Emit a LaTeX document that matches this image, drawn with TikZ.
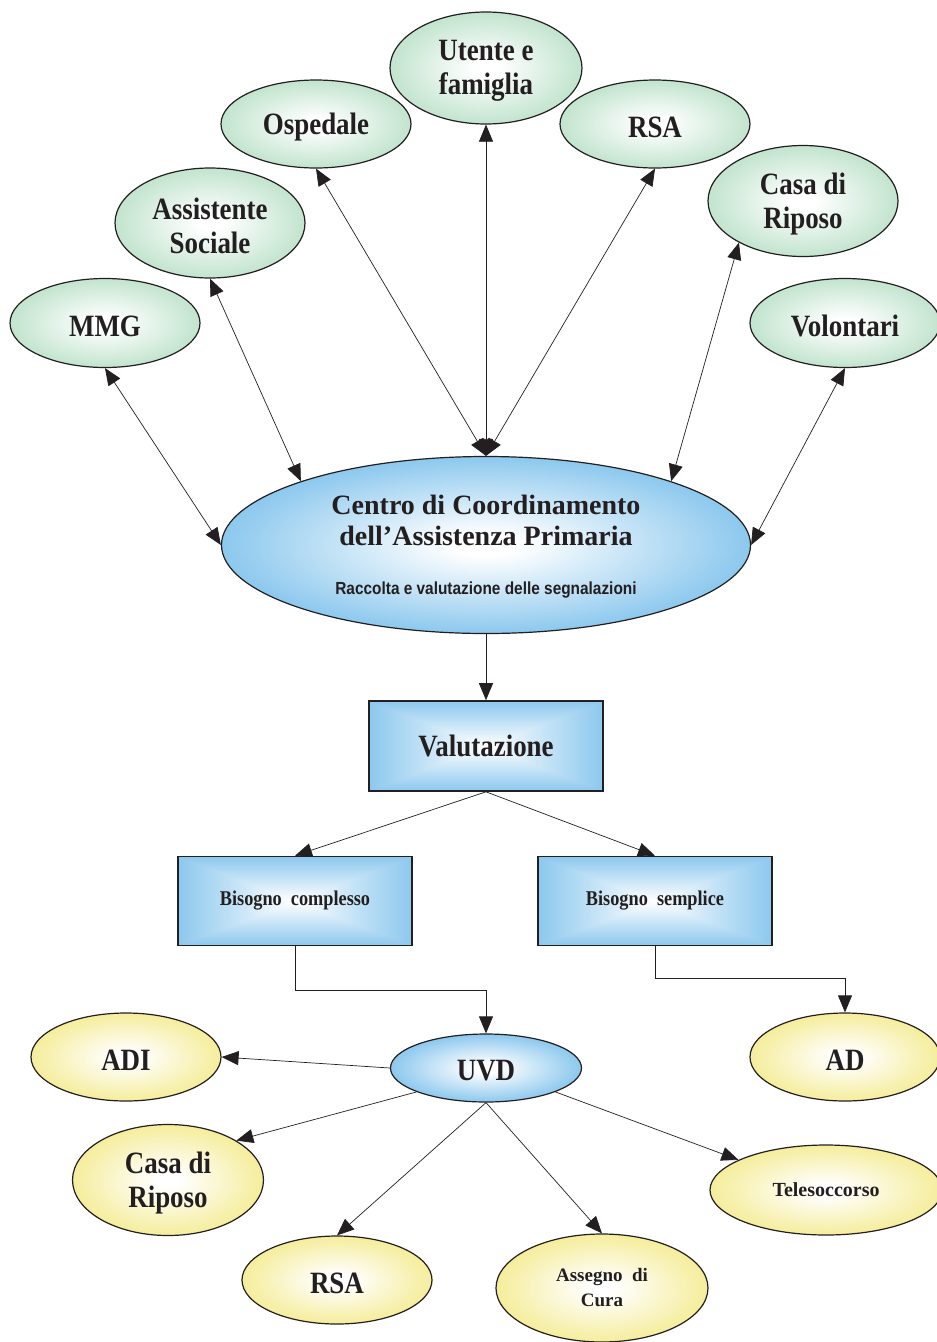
\documentclass[tikz,border=0pt]{standalone}
\usepackage{fontspec}
\setmainfont{Liberation Serif}
\newfontfamily\tallserif[FakeStretch=0.87]{Liberation Serif}
\newfontfamily\sansface[FakeStretch=0.88]{Liberation Sans}
\usetikzlibrary{shapes.geometric,arrows.meta}

\definecolor{mintE}{RGB}{194,228,206}
\definecolor{skyE}{RGB}{140,200,238}
\definecolor{lemonE}{RGB}{245,237,155}
\definecolor{ink}{RGB}{35,31,32}

% soft radial fills: white core fading to the edge colour
\pgfdeclareradialshading{mintglow}{\pgfpoint{0bp}{0bp}}{color(0bp)=(white); color(3bp)=(white); color(25bp)=(mintE); color(50bp)=(mintE)}
\pgfdeclareradialshading{skyglow}{\pgfpoint{0bp}{0bp}}{color(0bp)=(white); color(3bp)=(white); color(25bp)=(skyE); color(50bp)=(skyE)}
\pgfdeclareradialshading{lemonglow}{\pgfpoint{0bp}{0bp}}{color(0bp)=(white); color(3bp)=(white); color(25bp)=(lemonE); color(50bp)=(lemonE)}

% rectangular fill: white centre, sky blue towards every side
\pgfdeclarefunctionalshading{skybox}{\pgfpoint{-50bp}{-50bp}}{\pgfpoint{50bp}{50bp}}{}{
 abs exch abs 2 copy lt {exch} if pop
 25 div dup 1 gt {pop 1} if
 dup dup
 -0.451 mul 1 add
 3 1 roll
 -0.216 mul 1 add
 exch
 -0.067 mul 1 add
}

\tikzset{
  bigtxt/.style={font=\tallserif\bfseries\fontsize{31}{34}\selectfont, align=center, inner sep=0pt, text=ink, yshift=-3pt},
  smalltxt/.style={font=\bfseries\fontsize{19}{25}\selectfont, align=center, inner sep=0pt, text=ink},
  greenball/.style={ellipse, draw=ink, line width=1.2pt, shade, shading=mintglow, inner sep=0pt},
  yellowball/.style={ellipse, draw=ink, line width=1.2pt, shade, shading=lemonglow, inner sep=0pt},
  blueball/.style={ellipse, draw=ink, line width=1.2pt, shade, shading=skyglow, inner sep=0pt},
  bluebox/.style={rectangle, draw=ink, line width=1.6pt, shade, shading=skybox, inner sep=0pt,
                  minimum width=234pt, minimum height=89pt},
  link/.style={draw=ink, line width=0.7pt, -{Triangle[length=17pt,width=14pt]}},
  duallink/.style={draw=ink, line width=0.7pt, {Triangle[length=17pt,width=14pt]}-{Triangle[length=17pt,width=14pt]}},
}

\begin{document}
\begin{tikzpicture}[x=1pt,y=-1pt]
\path[use as bounding box, fill=white] (0,0) rectangle (937,1342);

% referring services
\node[greenball, minimum width=190pt, minimum height=89pt, label={[bigtxt]center:MMG}] (mmg) at (105,323) {};
\node[greenball, minimum width=190pt, minimum height=110pt, label={[bigtxt]center:Assistente\\Sociale}] (soc) at (210,223) {};
\node[greenball, minimum width=190pt, minimum height=88pt, label={[bigtxt]center:Ospedale}] (osp) at (316,124) {};
\node[greenball, minimum width=192pt, minimum height=112pt, label={[bigtxt]center:Utente e\\famiglia}] (ute) at (486,68) {};
\node[greenball, minimum width=190pt, minimum height=88pt, label={[bigtxt]center:RSA}] (rsa) at (655,124) {};
\node[greenball, minimum width=190pt, minimum height=111pt, label={[bigtxt]center:Casa di\\Riposo}] (cdr) at (803,201) {};
\node[greenball, minimum width=190pt, minimum height=89pt, label={[bigtxt]center:Volontari}] (vol) at (845,323) {};

% coordination hub
\node[blueball, minimum width=529pt, minimum height=177pt] (hub) at (486,545) {};
\node[font=\bfseries\fontsize{28}{31}\selectfont, text=ink, inner sep=0pt, anchor=base] (hubA) at (486,514) {Centro di Coordinamento};
\node[font=\bfseries\fontsize{28}{31}\selectfont, text=ink, inner sep=0pt, anchor=base] (hubB) at (486,545) {dell’Assistenza Primaria};
\node[font=\sansface\bfseries\fontsize{17.5}{20}\selectfont, text=ink, inner sep=0pt, anchor=base] (hubC) at (486,594) {Raccolta e valutazione delle segnalazioni};

% assessment
\node[bluebox, minimum height=90pt, font=\tallserif\bfseries\fontsize{31}{34}\selectfont, text=ink] (val) at (486,746) {Valutazione};
\node[bluebox, font=\tallserif\bfseries\fontsize{21}{25}\selectfont, text=ink] (bc) at (295,901) {Bisogno\ \ complesso};
\node[bluebox, font=\tallserif\bfseries\fontsize{21}{25}\selectfont, text=ink] (bs) at (655,901) {Bisogno\ \ semplice};

% services
\node[blueball, minimum width=191pt, minimum height=68pt, label={[bigtxt]center:UVD}] (uvd) at (486,1068) {};
\node[yellowball, minimum width=190pt, minimum height=88pt, label={[bigtxt]center:ADI}] (adi) at (126,1057) {};
\node[yellowball, minimum width=190pt, minimum height=88pt, label={[bigtxt]center:AD}] (ad) at (845,1057) {};
\node[yellowball, minimum width=191pt, minimum height=111pt, label={[bigtxt]center:Casa di\\Riposo}] (cdrb) at (168,1180) {};
\node[yellowball, minimum width=190pt, minimum height=88pt, label={[bigtxt]center:RSA}] (rsab) at (337,1280) {};
\node[yellowball, minimum width=212pt, minimum height=108pt, label={[smalltxt]center:Assegno\ \ di\\Cura}] (asc) at (602,1288) {};
\node[yellowball, minimum width=232pt, minimum height=90pt, label={[smalltxt, font=\bfseries\fontsize{20}{25}\selectfont]center:Telesoccorso}] (tel) at (826,1190) {};

% two-way links to the hub
\draw[duallink] (mmg.south) -- (hub.west);
\draw[duallink] (soc.south) -- (hub.161);
\draw[duallink] (osp.south) -- (hub.north);
\draw[duallink] (ute.south) -- (hub.north);
\draw[duallink] (rsa.south) -- (hub.north);
\draw[duallink] (cdr.213) -- (hub.19);
\draw[duallink] (vol.south) -- (hub.east);

% flow downwards
\draw[link] (hub.south) -- (val.north);
\draw[link] (val.south) -- (bc.north);
\draw[link] (val.south) -- (bs.north);
\draw[link] (bc.south) -- ++(0,44) -| (uvd.north);
\draw[link] (bs.south) -- ++(0,32) -| (ad.north);
\draw[link] (uvd.west) -- (adi.east);
\draw[link] (uvd.199) -- (cdrb.30);
\draw[link] (uvd.south) -- (rsab.north);
\draw[link] (uvd.south) -- (asc.north);
\draw[link] (uvd.-19) -- (tel.161);
\end{tikzpicture}
\end{document}
